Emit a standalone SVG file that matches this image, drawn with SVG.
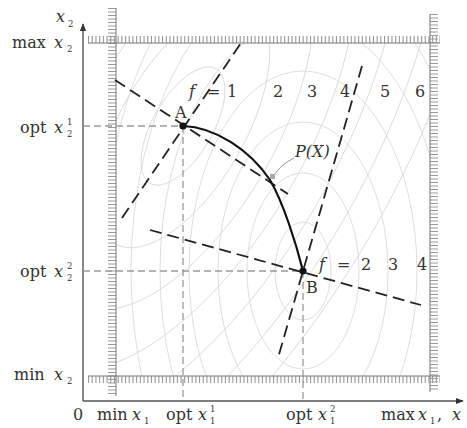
<svg xmlns="http://www.w3.org/2000/svg" width="467" height="428" viewBox="0 0 467 428">
<style>
.t{font-family:"DejaVu Serif","Liberation Serif",serif;font-size:16px;fill:#333}
.i{font-style:italic}
.s{font-size:8.5px}
.c{fill:none;stroke:#d6d6d6;stroke-width:0.8}
.bd{stroke:#222;stroke-width:1.8;stroke-dasharray:12 6;fill:none}
.gd{stroke:#999;stroke-width:1.3;stroke-dasharray:7 4;fill:none}
.bl{stroke:#777;stroke-width:1;fill:none}
.hv{stroke:#999;stroke-width:8;stroke-dasharray:1.1 2.4;fill:none}
.hh{stroke:#999;stroke-width:7;stroke-dasharray:1.1 2.6;fill:none}
.ax{stroke:#555;stroke-width:1.4;fill:none}
</style>
<defs>
<clipPath id="box"><rect x="116" y="43" width="314" height="333"/></clipPath>
<marker id="arr" viewBox="0 0 10 10" refX="9" refY="5" markerWidth="8" markerHeight="8" orient="auto" markerUnits="userSpaceOnUse"><path d="M0,1 L10,5 L0,9 z" fill="#333"/></marker>
</defs>
<g id="contours" clip-path="url(#box)">
<g transform="translate(303,271)">
<ellipse class="c" rx="28" ry="49"/><ellipse class="c" rx="56" ry="98"/><ellipse class="c" rx="85" ry="149"/><ellipse class="c" rx="114" ry="200"/><ellipse class="c" rx="143" ry="250"/><ellipse class="c" rx="172" ry="300"/><ellipse class="c" rx="201" ry="350"/>
</g>
<g transform="translate(183,126) rotate(-60)">
<ellipse class="c" rx="66" ry="30"/><ellipse class="c" rx="136" ry="62"/><ellipse class="c" rx="205" ry="93"/><ellipse class="c" rx="273" ry="124"/><ellipse class="c" rx="341" ry="155"/><ellipse class="c" rx="409" ry="186"/><ellipse class="c" rx="477" ry="217"/>
</g>
</g>
<g id="bounds">
<line class="hv" x1="112" y1="8" x2="112" y2="396"/>
<line class="bl" x1="116" y1="8" x2="116" y2="396"/>
<line class="hh" x1="88" y1="39.5" x2="440" y2="39.5"/>
<line class="bl" x1="88" y1="43" x2="440" y2="43"/>
<line class="hv" x1="434" y1="14" x2="434" y2="392"/>
<line class="bl" x1="430" y1="14" x2="430" y2="392"/>
<line class="hh" x1="88" y1="379.5" x2="440" y2="379.5"/>
<line class="bl" x1="88" y1="376" x2="440" y2="376"/>
</g>
<g id="axes">
<line class="ax" x1="83" y1="401" x2="83" y2="24" marker-end="url(#arr)"/>
<line class="ax" x1="83" y1="401" x2="463" y2="401" marker-end="url(#arr)"/>
</g>
<g id="connectors">
<line class="gd" x1="83" y1="126" x2="183" y2="126"/>
<line class="gd" x1="83" y1="271" x2="303" y2="271"/>
<line class="gd" x1="183" y1="126" x2="183" y2="401" stroke="#666"/>
<line class="gd" x1="303" y1="271" x2="303" y2="401" stroke="#666"/>
<line class="bd" x1="122" y1="218" x2="241" y2="43"/>
<line class="bd" x1="115" y1="80" x2="288" y2="194"/>
<line class="bd" x1="150" y1="230" x2="421" y2="305"/>
<line class="bd" x1="362" y1="66" x2="278" y2="358"/>
<path id="PX" d="M183,126 C215,127 250,150 270,180 C283,202 296,243 303,271" fill="none" stroke="#111" stroke-width="2.2"/>
<path d="M294,158 C286,162 278,168 273,177" fill="none" stroke="#888" stroke-width="0.9"/>
<rect x="270" y="174" width="5" height="5" fill="#aaa"/>
</g>
<g id="A"><circle cx="183" cy="126" r="3.6" fill="#111"/><text class="t" x="175" y="118">A</text></g>
<g id="B"><circle cx="303" cy="271" r="3.6" fill="#111"/><text class="t" x="306" y="293">B</text></g>
<g id="labels">
<text class="t i" x="295" y="157">P(X)</text>
<text class="t"><tspan class="i" x="189" y="97">f</tspan><tspan x="207" y="97">=</tspan><tspan x="227" y="97">1</tspan></text>
<text class="t" x="273" y="97">2</text>
<text class="t" x="307" y="97">3</text>
<text class="t" x="340" y="97">4</text>
<text class="t" x="380" y="97">5</text>
<text class="t" x="415" y="97">6</text>
<text class="t"><tspan class="i" x="319" y="270">f</tspan><tspan x="337" y="270">=</tspan><tspan x="361" y="270">2</tspan><tspan x="388" y="270">3</tspan><tspan x="417" y="270">4</tspan></text>
<text class="t i" x="56" y="22">x</text><text class="t s" x="68" y="27">2</text>
<text class="t"><tspan x="12" y="48">max</tspan><tspan class="i" x="54" y="48">x</tspan></text><text class="t s" x="67" y="52">2</text>
<text class="t"><tspan x="20" y="133">opt</tspan><tspan class="i" x="54" y="133">x</tspan></text><text class="t s" x="67" y="125">1</text><text class="t s" x="67" y="137">2</text>
<text class="t"><tspan x="20" y="277">opt</tspan><tspan class="i" x="54" y="277">x</tspan></text><text class="t s" x="67" y="269">2</text><text class="t s" x="67" y="281">2</text>
<text class="t"><tspan x="14" y="380">min</tspan><tspan class="i" x="54" y="380">x</tspan></text><text class="t s" x="67" y="384">2</text>
<text class="t" x="73" y="420">0</text>
<text class="t"><tspan x="97" y="420">min</tspan><tspan class="i" x="132" y="420">x</tspan></text><text class="t s" x="144" y="424">1</text>
<text class="t"><tspan x="166" y="420">opt</tspan><tspan class="i" x="198" y="420">x</tspan></text><text class="t s" x="210" y="412">1</text><text class="t s" x="210" y="424">1</text>
<text class="t"><tspan x="286" y="420">opt</tspan><tspan class="i" x="318" y="420">x</tspan></text><text class="t s" x="330" y="412">2</text><text class="t s" x="330" y="424">1</text>
<text class="t"><tspan x="381" y="420">max</tspan><tspan class="i" x="418" y="420">x</tspan></text><text class="t s" x="430" y="424">1</text><text class="t" x="437" y="420">,</text><text class="t i" x="452" y="420">x</text>
</g>
</svg>
